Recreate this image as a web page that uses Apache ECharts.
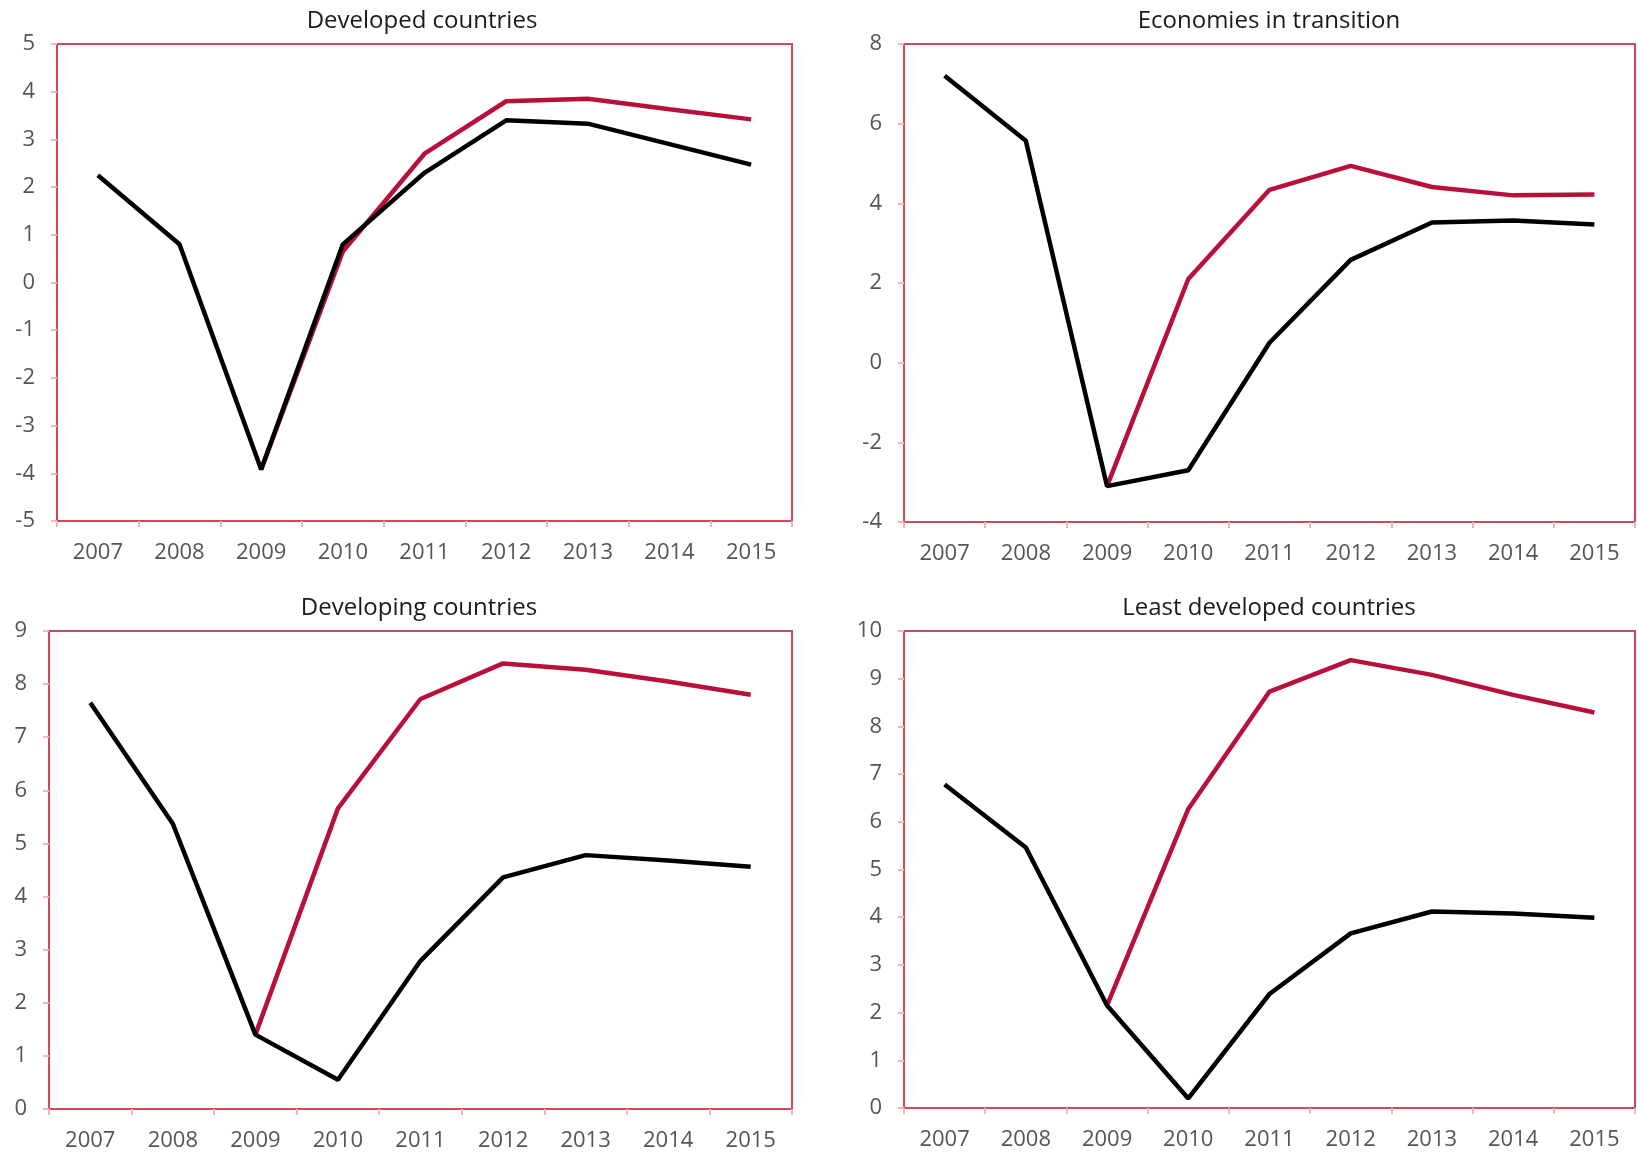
<!DOCTYPE html>
<html>
<head>
<meta charset="utf-8">
<script src="https://cdn.jsdelivr.net/npm/echarts@6/dist/echarts.min.js"></script>
<style>
html,body{margin:0;padding:0;background:#fff;}
#chart{width:1638px;height:1152px;}
</style>
</head>
<body>
<div id="chart"></div>
<script>
const years = ['2007','2008','2009','2010','2011','2012','2013','2014','2015'];
const panelTitles = ['Developed countries','Economies in transition','Developing countries','Least developed countries'];

const developedBlack = [2.25, 0.8, -3.92, 0.8, 2.3, 3.4, 3.33, 2.9, 2.47];
const developedRed   = ['-', '-', -3.92, 0.65, 2.7, 3.8, 3.85, 3.63, 3.42];

const transitionBlack = [7.2, 5.57, -3.1, -2.7, 0.5, 2.58, 3.52, 3.57, 3.47];
const transitionRed   = ['-', '-', -3.1, 2.1, 4.34, 4.94, 4.41, 4.2, 4.22];

const developingBlack = [7.65, 5.37, 1.4, 0.55, 2.79, 4.36, 4.78, 4.68, 4.56];
const developingRed   = ['-', '-', 1.4, 5.66, 7.72, 8.39, 8.27, 8.05, 7.8];

const ldcBlack = [6.78, 5.46, 2.15, 0.2, 2.39, 3.66, 4.12, 4.08, 3.99];
const ldcRed   = ['-', '-', 2.15, 6.27, 8.73, 9.39, 9.08, 8.66, 8.29];

const yMin = [-5, -4, 0, 0];
const yMax = [5, 8, 9, 10];
const yInterval = [1, 2, 1, 1];

const blackSeries = [developedBlack, transitionBlack, developingBlack, ldcBlack];
const redSeries = [developedRed, transitionRed, developingRed, ldcRed];

const grids = [
  {left: 57, top: 44, width: 735, height: 477},
  {left: 904, top: 44, width: 731, height: 478},
  {left: 49, top: 631, width: 743, height: 479},
  {left: 904, top: 631, width: 731, height: 477}
];
const titlePos = [
  {x: 417, y: 4}, {x: 1264, y: 4}, {x: 414, y: 591}, {x: 1264, y: 591}
];

const FONT = '"Open Sans", "Noto Sans", sans-serif';
const BORDER = '#d2485a';
const TICK = '#f2b8b8';
const RED = '#b8103a';

const option = {
  backgroundColor: '#fff',
  animation: false,
  title: panelTitles.map((t, i) => ({
    text: t,
    left: titlePos[i].x,
    top: titlePos[i].y,
    textAlign: 'center',
    textStyle: {fontFamily: FONT, fontSize: 24, fontWeight: 'normal', color: '#1a1a1a'}
  })),
  grid: grids.map(g => Object.assign({show: true, borderColor: BORDER, borderWidth: 2, backgroundColor: '#fff'}, g)),
  xAxis: grids.map((g, i) => ({
    type: 'category',
    gridIndex: i,
    data: years,
    boundaryGap: true,
    axisLine: {show: true, onZero: false, lineStyle: {color: BORDER, width: 2}},
    axisTick: {show: true, length: 6, lineStyle: {color: TICK, width: 2}},
    axisLabel: {fontFamily: FONT, fontSize: 22, color: '#555', margin: 21},
    splitLine: {show: false}
  })),
  yAxis: grids.map((g, i) => ({
    type: 'value',
    gridIndex: i,
    min: yMin[i],
    max: yMax[i],
    interval: yInterval[i],
    axisLine: {show: true, onZero: false, lineStyle: {color: BORDER, width: 2}},
    axisTick: {show: true, length: 6, lineStyle: {color: TICK, width: 2}},
    axisLabel: {fontFamily: FONT, fontSize: 22, color: '#555', margin: 22},
    splitLine: {show: false}
  })),
  series: []
};

for (let i = 0; i < 4; i++) {
  option.series.push({
    type: 'line', xAxisIndex: i, yAxisIndex: i, data: redSeries[i],
    symbol: 'none', lineStyle: {color: RED, width: 4.5}, z: 2
  });
  option.series.push({
    type: 'line', xAxisIndex: i, yAxisIndex: i, data: blackSeries[i],
    symbol: 'none', lineStyle: {color: '#000', width: 4.5}, z: 3
  });
}

const chart = echarts.init(document.getElementById('chart'));
chart.setOption(option);
</script>
</body>
</html>
